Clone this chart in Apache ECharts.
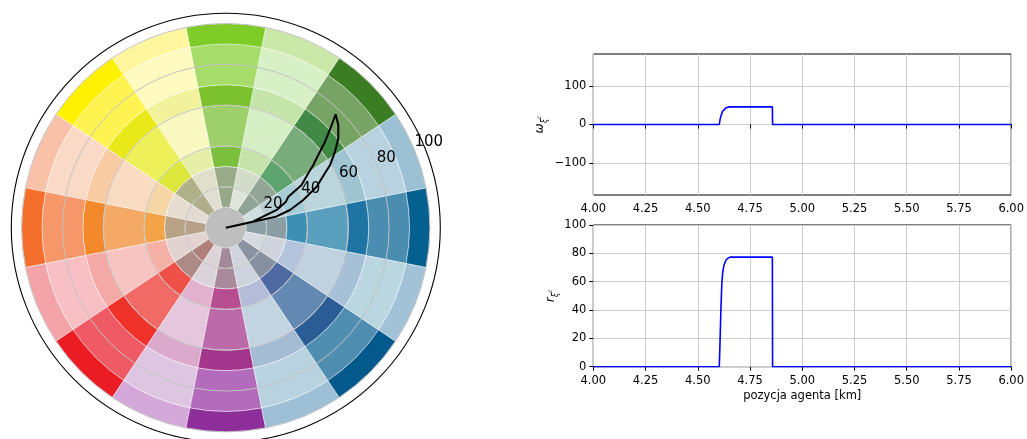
<!DOCTYPE html>
<html><head><meta charset="utf-8">
<script src="https://cdn.jsdelivr.net/npm/echarts@6.0.0/dist/echarts.min.js"></script>
<style>html,body{margin:0;padding:0;background:#fff}#c{width:1027px;height:439px}</style>
</head><body><div id="c"></div>
<script>
// ---- polar wheel ----
const sectorAngles = [0, 22.5, 45, 67.5, 90, 112.5, 135, 157.5, 180, 202.5, 225, 247.5, 270, 292.5, 315, 337.5];
const bandEdges = [0, 10, 20, 30, 40, 60, 70, 90, 100];
const radialTicks = [20, 40, 60, 80, 100];
// per sector colours, bands 10-20,20-30,30-40,40-60,60-70,70-90,90-100
const sectorColors = [
  ['#8d9fa6','#8b9ea4','#3d90b4','#5a9fbe','#1e75a3','#4b8cb1','#03608f'],
  ['#cfdee0','#b7cfd4','#a8ccd6','#bad5dc','#9fc4d2','#b8d3df','#9cc1d5'],
  ['#8fa396','#92a596','#5ea46e','#78ad7b','#418a45','#77a465','#3a7d22'],
  ['#dfe4da','#d2dcc8','#c5e3ab','#d6eec4','#c5e4aa','#d8f0c6','#cae8a8'],
  ['#97a88a','#98aa88','#7cbf3d','#9dd06a','#7cc22f','#a6dc6a','#7fcb27'],
  ['#e0ddd3','#dfdfcb','#e6efa7','#f8f8c0','#f3f29c','#fffac0','#fff69f'],
  ['#b0ae8a','#b1b189','#dde63a','#eef05a','#e9e919','#fff352','#fff200'],
  ['#e3dbd2','#e6dccf','#f7d6a6','#fadcc2','#f8cba3','#fad9c7','#f9c2a8'],
  ['#b6a088','#b8a285','#f3a446','#f5a966','#f3892a','#f59769','#f36f2b'],
  ['#e2d3d2','#e2d3d0','#f6b1a6','#f8c4c1','#f5a9a6','#f8c0c4','#f4a4a9'],
  ['#b0807c','#ad8a86','#ef5148','#f26a66','#ee3129','#f05a64','#ec1c24'],
  ['#ddd4da','#dad3da','#e2b1cd','#e5c6dd','#dba9cc','#dec6e3','#d3a8d8'],
  ['#a38a99','#a8899b','#b74d91','#bd6aab','#a4358d','#b26cbb','#8e2e9b'],
  ['#d1d4dc','#ced2dc','#b4bcd8','#c2d3e2','#a5bdd4','#b9d2e0','#9dc0d6'],
  ['#8a92a2','#8790a0','#4f6aa2','#6389b2','#2a5d96','#4f8eb1','#04598c'],
  ['#d5d9e0','#cfd3dc','#b3c4dc','#c0d1e0','#a5c0d7','#bad6e1','#a1c2d7']
];
const centerColor = '#bebebe';
// trajectory (angle deg, radius)
const trajTheta = [0, 12.4, 15.4, 19.7, 24.3, 28.9, 31.0, 34.8, 38.5, 42.4, 45.9, 44.1, 40.9, 38.2, 35.6, 33.4, 29.4, 26.4, 23.4, 19.2, 12.6, 0];
const trajR     = [0, 25.2, 32.6, 40.3, 48.8, 55.5, 59.6, 65.1, 70.4, 74.6, 77.3, 72.2, 64.3, 57.6, 52.7, 48.4, 42.6, 34.2, 32.1, 26.4, 13.5, 0];

// ---- time series ----
const xTicks = [4.00, 4.25, 4.50, 4.75, 5.00, 5.25, 5.50, 5.75, 6.00];
const omegaTicks = [-100, 0, 100];
const posKm  = [4.0, 4.603, 4.607, 4.611, 4.615, 4.619, 4.625, 4.635, 4.645, 4.655, 4.857, 4.858, 6.0];
const omegaV = [0,   0,     14,    22,    29,    34.5,  39,    43.5,  45.3,  46,    46,    0,     0];
const rV     = [0,   0,     20,    42,    58,    66,    71.5,  75.3,  76.7,  77.3,  77.3,  0,     0];

const FONT = 'DejaVu Sans';
const C = [225.8, 227.7];
const hidden = {axisLine:{show:false}, axisTick:{show:false}, axisLabel:{show:false}, splitLine:{show:false}, splitArea:{show:false}};

const barSeries = [];
for (let b = 0; b < bandEdges.length - 1; b++) {
  barSeries.push({
    type: 'bar', coordinateSystem: 'polar', polarIndex: 0, stack: 'wheel',
    barCategoryGap: '0%', silent: true,
    itemStyle: b === 0 ? {borderColor: centerColor, borderWidth: 1} : {borderColor: 'rgba(255,255,255,0.55)', borderWidth: 0.8},
    data: sectorAngles.map((a, k) => ({
      value: bandEdges[b + 1] - bandEdges[b],
      itemStyle: {color: b === 0 ? centerColor : sectorColors[k][b - 1]}
    }))
  });
}

const rich = {
  s: {fontSize: 8, fontStyle: 'italic', lineHeight: 9, verticalAlign: 'bottom', fontFamily: FONT, color: '#000'},
  c: {fontSize: 6, fontStyle: 'italic', lineHeight: 6, verticalAlign: 'bottom', padding: [0, 0, 7, 0], fontFamily: FONT, color: '#000'},
  w: {fontSize: 12, fontStyle: 'italic', lineHeight: 18, fontFamily: FONT, color: '#000'}
};

const option = {
  animation: false,
  backgroundColor: '#fff',
  textStyle: {fontFamily: FONT},
  polar: [
    {center: C, radius: [0, 204.2]},
    {center: C, radius: [0, 204.2]},
    {center: C, radius: [0, 204.2]},
    {center: C, radius: [0, 214.5]}
  ],
  angleAxis: [
    Object.assign({polarIndex: 0, type: 'category', data: sectorAngles.map(String), startAngle: 348.75, clockwise: false}, hidden),
    Object.assign({polarIndex: 1, type: 'value', min: 0, max: 360, startAngle: 0, clockwise: false}, hidden),
    Object.assign({polarIndex: 2, type: 'value', min: 0, max: 360, startAngle: 22.5, clockwise: false}, hidden),
    Object.assign({polarIndex: 3, type: 'value', min: 0, max: 360, startAngle: 0, clockwise: false}, hidden,
      {axisLine: {show: true, lineStyle: {color: '#000', width: 1.1}}})
  ],
  radiusAxis: [
    Object.assign({polarIndex: 0, type: 'value', min: 0, max: 100}, hidden),
    Object.assign({polarIndex: 1, type: 'value', min: 0, max: 100}, hidden),
    {polarIndex: 2, type: 'value', min: 0, max: 100, interval: 20, z: 5,
     axisLine: {show: false}, axisTick: {show: false},
     splitLine: {show: true, lineStyle: {color: '#c2c2c2', width: 1}},
     axisLabel: {show: true, margin: 0, align: 'left', verticalAlign: 'bottom', fontSize: 15,
       color: '#000', fontFamily: FONT, showMaxLabel: true,
       formatter: v => radialTicks.indexOf(v) >= 0 ? String(v) : ''}},
    Object.assign({polarIndex: 3, type: 'value', min: 0, max: 105}, hidden)
  ],
  grid: [
    {left: 593.3, top: 54, width: 420, height: 141, show: true, borderColor: '#000', borderWidth: 1, backgroundColor: 'transparent'},
    {left: 593.3, top: 225, width: 420, height: 141.7, show: true, borderColor: '#000', borderWidth: 1, backgroundColor: 'transparent'}
  ],
  xAxis: [0, 1].map(i => ({
    gridIndex: i, type: 'value', min: xTicks[0], max: xTicks[xTicks.length - 1], interval: 0.25,
    axisLine: {show: false},
    axisTick: {show: true, inside: false, length: 4, lineStyle: {color: '#000', width: 1}},
    axisLabel: {margin: 8, fontSize: 11.5, color: '#000', fontFamily: FONT, formatter: v => v.toFixed(2)},
    splitLine: {show: true, lineStyle: {color: '#cbcbcb', width: 1}},
    name: i === 1 ? 'pozycja agenta [km]' : '', nameLocation: 'middle', nameGap: 23,
    nameTextStyle: {fontSize: 11.5, color: '#000', fontFamily: FONT}
  })),
  yAxis: [
    {gridIndex: 0, type: 'value', min: -184, max: 184,
     axisLine: {show: false},
     axisTick: {show: true, length: 4, customValues: omegaTicks, lineStyle: {color: '#000'}},
     axisLabel: {margin: 7, fontSize: 11.5, color: '#000', fontFamily: FONT, customValues: omegaTicks,
       formatter: v => v < 0 ? '\u2212' + Math.abs(v) : String(v)},
     splitLine: {show: true, lineStyle: {color: '#cbcbcb', width: 1}},
     name: '{w|ω}{s|ξ}{c|c}', nameLocation: 'middle', nameGap: 44, nameRotate: 90,
     nameTextStyle: {rich: rich}},
    {gridIndex: 1, type: 'value', min: 0, max: 100, interval: 20,
     axisLine: {show: false},
     axisTick: {show: true, length: 4, lineStyle: {color: '#000'}},
     axisLabel: {margin: 7, fontSize: 11.5, color: '#000', fontFamily: FONT},
     splitLine: {show: true, lineStyle: {color: '#cbcbcb', width: 1}},
     name: '{w|r}{s|ξ}{c|c}', nameLocation: 'middle', nameGap: 33, nameRotate: 90,
     nameTextStyle: {rich: rich}}
  ],
  series: barSeries.concat([
    {type: 'line', coordinateSystem: 'polar', polarIndex: 1, z: 10, silent: true,
     symbol: 'none', lineStyle: {color: '#000', width: 2},
     data: trajR.map((r, i) => [r, trajTheta[i]])},
    {type: 'line', xAxisIndex: 0, yAxisIndex: 0, symbol: 'none', silent: true, z: 5,
     lineStyle: {color: '#0000ff', width: 1.6},
     data: posKm.map((x, i) => [x, omegaV[i]])},
    {type: 'line', xAxisIndex: 1, yAxisIndex: 1, symbol: 'none', silent: true, z: 5,
     lineStyle: {color: '#0000ff', width: 1.6},
     data: posKm.map((x, i) => [x, rV[i]])}
  ])
};
const chart = echarts.init(document.getElementById('c'), null, {renderer: 'canvas'});
chart.setOption(option);
</script>
</body></html>
